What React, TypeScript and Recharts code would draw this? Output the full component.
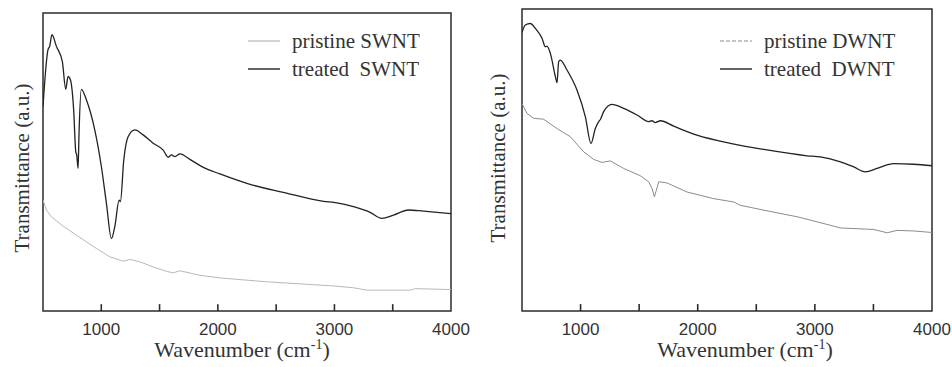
import { LineChart, Line, XAxis, YAxis, ReferenceArea, ReferenceLine, Legend } from "recharts";

// wavenumber (cm-1), transmittance in arbitrary units (0 = bottom of frame, 100 = top)
const treatedSwnt = [
  [500, 68.6], [543, 87.7], [557, 88.8], [577, 92.7], [615, 88.8], [666, 83.7],
  [695, 74.4], [715, 78.7], [735, 77.6], [763, 67.5], [781, 53.5], [789, 52.4],
  [801, 47.9], [809, 59.6], [829, 74.4], [872, 70.9], [944, 60.8], [1001, 48.4],
  [1044, 36.1], [1087, 24.3], [1116, 28.3], [1153, 37.2], [1164, 36.7], [1193, 50.7],
  [1230, 58.5], [1288, 60.8], [1359, 59.1], [1445, 56.3], [1531, 54.0], [1574, 51.6],
  [1603, 52.4], [1631, 51.8], [1674, 52.7], [1760, 50.9], [1875, 48.2], [2018, 46.0],
  [2276, 42.5], [2562, 39.8], [2906, 36.8], [3020, 36.3], [3163, 35.0], [3306, 33.1],
  [3407, 31.1], [3507, 32.2], [3636, 33.9], [3765, 33.5], [4000, 32.7],
];

const pristineSwnt = [
  [500, 37.2], [529, 33.9], [572, 31.6], [672, 28.5], [815, 24.7], [958, 21.0],
  [1073, 18.2], [1187, 16.7], [1245, 17.3], [1331, 16.5], [1445, 14.8], [1560, 13.3],
  [1617, 12.8], [1674, 13.5], [1846, 12.0], [2018, 11.1], [2419, 9.8], [2992, 8.4],
  [3163, 7.8], [3278, 7.0], [3650, 7.0], [3693, 7.5], [4000, 7.2],
];

const treatedDwnt = [
  [500, 92.2], [528, 94.7], [571, 95.2], [614, 93.6], [671, 90.3], [699, 87.5],
  [713, 87.7], [742, 85.3], [785, 77.6], [799, 75.6], [813, 82.5], [827, 83.1],
  [884, 79.8], [970, 73.1], [1041, 64.3], [1089, 55.5], [1126, 60.4], [1155, 62.7],
  [1169, 63.4], [1197, 66.0], [1268, 68.4], [1368, 67.1], [1482, 64.9], [1581, 62.7],
  [1610, 63.0], [1638, 62.4], [1681, 63.0], [1795, 61.2], [1994, 58.2], [2279, 55.5],
  [2563, 53.5], [2933, 51.4], [3047, 51.0], [3218, 49.4], [3332, 47.7], [3431, 46.1],
  [3531, 47.2], [3673, 48.8], [3844, 48.6], [4000, 48.1],
];

const pristineDwnt = [
  [500, 68.7], [543, 65.4], [600, 63.8], [685, 63.5], [799, 60.4], [913, 57.7],
  [1027, 52.7], [1112, 50.2], [1183, 49.2], [1254, 49.7], [1368, 47.2], [1510, 44.8],
  [1581, 42.8], [1610, 40.6], [1630, 37.8], [1647, 40.0], [1667, 42.8], [1738, 42.4],
  [1909, 39.4], [2137, 37.2], [2307, 36.1], [2364, 35.0], [2563, 33.4], [2848, 31.2],
  [2962, 30.1], [3161, 28.1], [3218, 27.5], [3503, 27.0], [3617, 25.9], [3702, 26.7],
  [3844, 26.5], [4000, 26.0],
];

const xTicks = [1000, 1500, 2000, 2500, 3000, 3500, 4000];

const INK = "#2b2b2b";
const SERIF = "'Liberation Serif', 'Times New Roman', serif";
const SANS = "'Liberation Sans', Arial, sans-serif";

const toRows = (pts: number[][]) => pts.map(([wn, t]) => ({ wn, t }));

function TickLabel(props: any) {
  const { x, y, payload } = props;
  const v = payload.value;
  if (v % 1000 !== 0) return <g />;
  return (
    <text x={x} y={y + 18} textAnchor="middle" dominantBaseline="central"
      fill="#333" fontFamily={SANS} fontSize={17}>
      {v}
    </text>
  );
}

interface Item { label: string; color: string; dash?: string; width: number }

function LegendBox({ items }: { items: Item[] }) {
  return (
    <div style={{ fontFamily: SERIF, fontSize: 21, color: "#333" }}>
      {items.map((it) => (
        <div key={it.label} style={{ display: "flex", alignItems: "center", height: 28 }}>
          <svg width={32} height={4} style={{ marginRight: 12 }}>
            <line x1={0} y1={2} x2={32} y2={2} stroke={it.color} strokeWidth={it.width}
              strokeDasharray={it.dash} />
          </svg>
          <span style={{ whiteSpace: "pre" }}>{it.label}</span>
        </div>
      ))}
    </div>
  );
}

interface PanelProps {
  left: number;
  margin: { top: number; right: number; bottom: number; left: number };
  treated: number[][];
  pristine: number[][];
  pristineColor: string;
  tube: string;
  legendLeft: number;
  yLabelX: number;
  yLabelY: number;
  xLabelX: number;
  dash?: string;
}

function Panel(p: PanelProps) {
  return (
    <div style={{ position: "absolute", left: p.left, top: 0, width: 476, height: 367 }}>
      <LineChart width={476} height={367} margin={p.margin}>
        <XAxis type="number" dataKey="wn" domain={[500, 4000]} ticks={xTicks} interval={0}
          allowDataOverflow axisLine={false} tickLine={false} tickSize={0} tickMargin={0}
          height={30} tick={<TickLabel />} />
        <YAxis hide domain={[0, 100]} />
        {/* inward tick marks on the bottom frame */}
        {xTicks.slice(0, -1).map((t) => (
          <ReferenceLine key={t} segment={[{ x: t, y: 0 }, { x: t, y: 2.3 }]}
            stroke={INK} strokeWidth={1.6} />
        ))}
        <ReferenceArea x1={500} x2={4000} y1={0} y2={100} fill="none" stroke={INK} strokeWidth={1.5} />
        <Line data={toRows(p.pristine)} dataKey="t" type="linear" stroke={p.pristineColor}
          strokeWidth={1} dot={false} isAnimationActive={false} />
        <Line data={toRows(p.treated)} dataKey="t" type="monotone" stroke="#222"
          strokeWidth={1.3} dot={false} isAnimationActive={false} />
        <Legend layout="vertical" align="center" verticalAlign="middle"
          wrapperStyle={{ left: p.legendLeft, top: 27, width: 200, height: 56 }}
          content={() => (
            <LegendBox items={[
              { label: `pristine ${p.tube}`, color: p.pristineColor, dash: p.dash, width: 1.2 },
              { label: `treated  ${p.tube}`, color: "#222", width: 1.4 },
            ]} />
          )} />
      </LineChart>
      <div style={{
        position: "absolute", left: p.yLabelX, top: p.yLabelY, transform: "translate(-50%, -50%) rotate(-90deg)",
        whiteSpace: "nowrap", fontFamily: SERIF, fontSize: 21, color: "#333",
      }}>
        Transmittance (a.u.)
      </div>
      <div style={{
        position: "absolute", left: p.xLabelX, top: 350, transform: "translate(-50%, -50%)",
        whiteSpace: "nowrap", fontFamily: SERIF, fontSize: 22, color: "#333",
      }}>
        Wavenumber (cm<sup style={{ fontSize: 14 }}>-1</sup>)
      </div>
    </div>
  );
}

export default function App() {
  return (
    <div style={{ position: "absolute", left: 0, top: 0, width: 952, height: 367, background: "#fff" }}>
      <Panel left={0} margin={{ top: 13, right: 25, bottom: 26, left: 43 }}
        treated={treatedSwnt} pristine={pristineSwnt} pristineColor="#b8b8b8" tube="SWNT"
        legendLeft={248} yLabelX={22} yLabelY={168} xLabelX={242} />
      <Panel left={476} margin={{ top: 9, right: 20, bottom: 26, left: 46 }}
        treated={treatedDwnt} pristine={pristineDwnt} pristineColor="#8c8c8c" tube="DWNT"
        legendLeft={244} yLabelX={22} yLabelY={158} xLabelX={269} dash="4 2" />
    </div>
  );
}
